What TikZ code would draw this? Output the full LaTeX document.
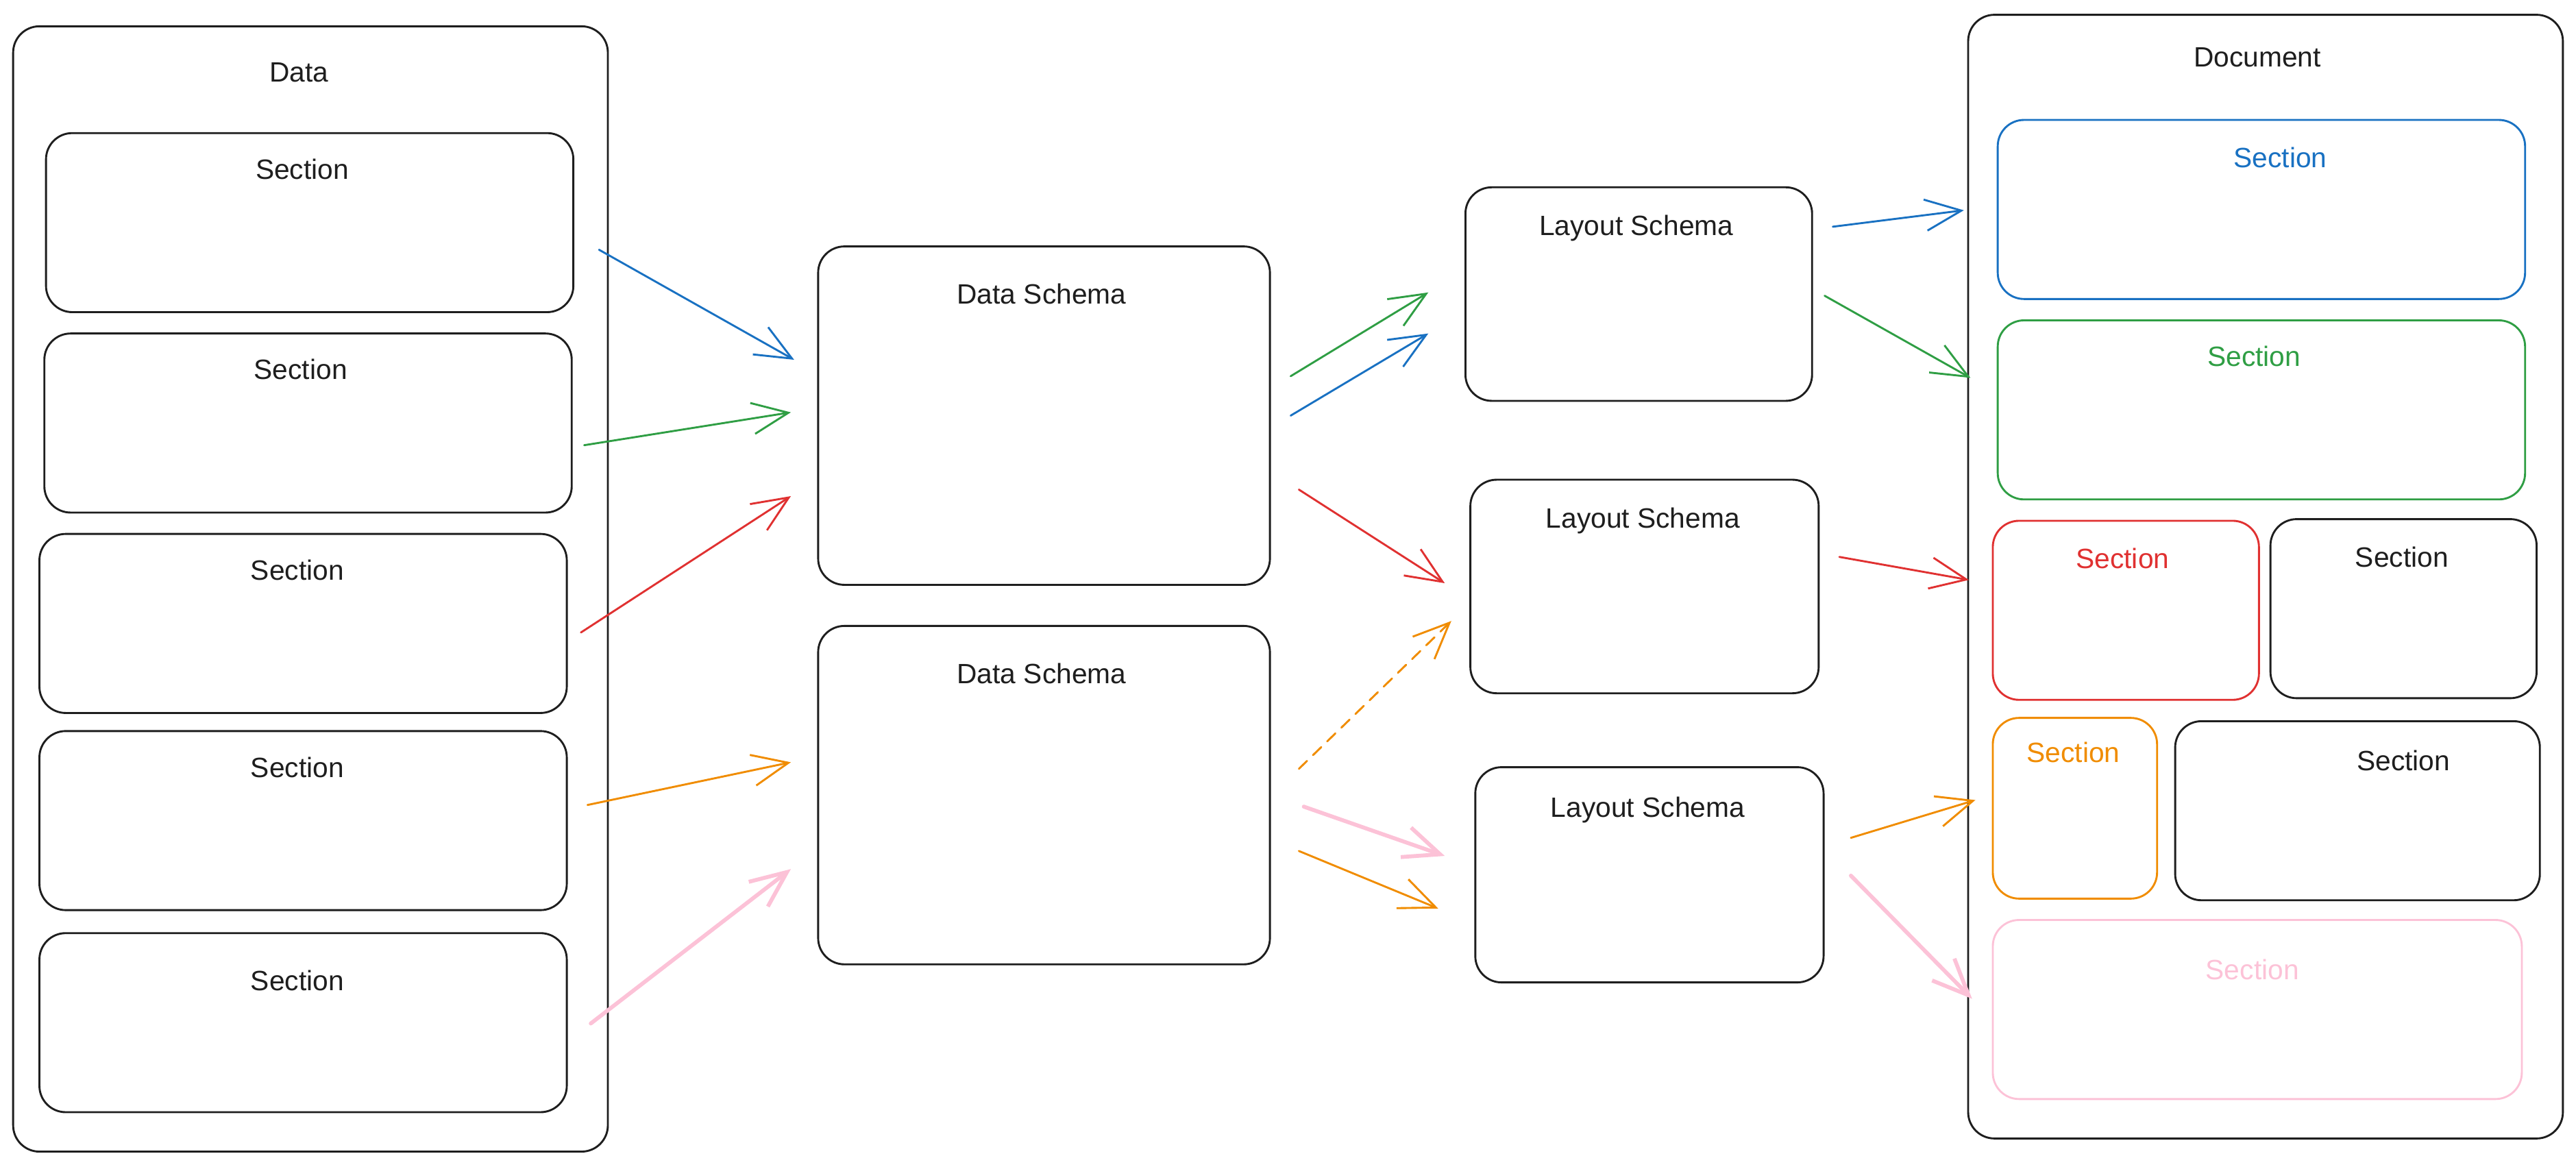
\documentclass[tikz,border=0pt]{standalone}
\usepackage{fontspec}
\setmainfont{Liberation Sans}
\usepackage{tikz}
\usetikzlibrary{arrows.meta}
\definecolor{ink}{HTML}{1E1E1E}
\definecolor{cblue}{HTML}{1971C2}
\definecolor{cgreen}{HTML}{2F9E44}
\definecolor{cred}{HTML}{E03131}
\definecolor{corange}{HTML}{F08C00}
\definecolor{cpink}{HTML}{FCC2D7}
\tikzset{
  box/.style = {draw=#1, rounded corners=16pt, line width=1.2pt, inner sep=0pt},% frame
  box/.default = ink,
  ttl/.style = {text=#1, font=\fontsize{17}{20}\selectfont, inner sep=0pt},% title
  ttl/.default = ink,
  flow/.style = {->, draw=#1, line width=1.2pt, line cap=round, line join=round},
  flow/.default = ink,
  fat/.style = {flow=cpink, line width=2.4pt},
}

\begin{document}
\begin{tikzpicture}[x=1pt,y=-1pt,>={Straight Barb[length=22pt,width=19pt]}]
  \useasboundingbox (0,0) rectangle (1568,710);

  %   data column
  \node[box, minimum width=362, minimum height=685] (data) at (189,358.5) {};
  \node[ttl] (tdata) at (182,44) {Data};
  \node[box, minimum width=321, minimum height=109] (s1) at (188.5,135.5) {};
  \node[box, minimum width=321, minimum height=109] (s2) at (187.5,257.5) {};
  \node[box, minimum width=321, minimum height=109] (s3) at (184.5,379.5) {};
  \node[box, minimum width=321, minimum height=109] (s4) at (184.5,499.5) {};
  \node[box, minimum width=321, minimum height=109] (s5) at (184.5,622.5) {};
  \foreach \n/\x/\y in {1/184/103, 2/183/225, 3/181/347, 4/181/467, 5/181/597}
  \node[ttl] (ts\n) at (\x,\y) {Section};

  %   schemas
  \node[box, minimum width=275, minimum height=206] (ds1) at (635.5,253) {};
  \node[box, minimum width=275, minimum height=206] (ds2) at (635.5,484) {};
  \node[ttl] (tds1) at (634,179) {Data Schema};
  \node[ttl] (tds2) at (634,410) {Data Schema};

  \node[box, minimum width=211, minimum height=130] (ls1) at (997.5,179) {};
  \node[box, minimum width=212, minimum height=130] (ls2) at (1001,357) {};
  \node[box, minimum width=212, minimum height=131] (ls3) at (1004,532.5) {};
  \node[ttl] (tls1) at (996,139) {Layout Schema};
  \node[ttl] (tls2) at (1000,317) {Layout Schema};
  \node[ttl] (tls3) at (1003,493) {Layout Schema};

  %   document column
  \node[box, minimum width=362, minimum height=684] (doc) at (1379,351) {};
  \node[ttl] (tdoc) at (1374,35) {Document};
  \node[box=cblue, minimum width=321, minimum height=109] (d1) at (1376.5,127.5) {};
  \node[box=cgreen, minimum width=321, minimum height=109] (d2) at (1376.5,249.5) {};
  \node[box=cred, minimum width=162, minimum height=109] (d3) at (1294,371.5) {};
  \node[box, minimum width=162, minimum height=109] (d4) at (1463,370.5) {};
  \node[box=corange, minimum width=100, minimum height=110] (d5) at (1263,492) {};
  \node[box, minimum width=222, minimum height=109] (d6) at (1435,493.5) {};
  \node[box=cpink, minimum width=322, minimum height=109] (d7) at (1374,614.5) {};
  \node[ttl=cblue] (td1) at (1388,96) {Section};
  \node[ttl=cgreen] (td2) at (1372,217) {Section};
  \node[ttl=cred] (td3) at (1292,340) {Section};
  \node[ttl] (td4) at (1462,339) {Section};
  \node[ttl=corange] (td5) at (1262,458) {Section};
  \node[ttl] (td6) at (1463,463) {Section};
  \node[ttl=cpink] (td7) at (1371,590) {Section};

  %   data -> data schema
  \draw[flow=cblue] ([shift={(15,16.5)}]s1.east) -- ([shift={(-14,-34)}]ds1.west);
  \draw[flow=cgreen] ([shift={(7,13.5)}]s2.east) -- ([shift={(-16,-2)}]ds1.west);
  \draw[flow=cred] ([shift={(8,5.5)}]s3.east) -- ([shift={(-16,49)}]ds1.west);
  \draw[flow=corange] ([shift={(12,-9.5)}]s4.east) -- ([shift={(-16,-20)}]ds2.west);
  \draw[fat] ([shift={(14,0.5)}]s5.east) -- ([shift={(-16,45)}]ds2.west);
  %   data schema -> layout schema
  \draw[flow=cgreen] ([shift={(12,-24)}]ds1.east) -- ([shift={(-22,-1)}]ls1.west);
  \draw[flow=cblue] ([shift={(12,0)}]ds1.east) -- ([shift={(-22,24)}]ls1.west);
  \draw[flow=cred] ([shift={(17,45)}]ds1.east) -- ([shift={(-15,-2)}]ls2.west);
  \draw[flow=corange, dash pattern=on 7pt off 5pt] ([shift={(17,-16)}]ds2.east) -- ([shift={(-11,21)}]ls2.west);
  \draw[fat] ([shift={(20,7)}]ds2.east) -- ([shift={(-18,-11.5)}]ls3.west);
  \draw[flow=corange] ([shift={(17,34)}]ds2.east) -- ([shift={(-22,20.5)}]ls3.west);
  %   layout schema -> document
  \draw[flow=cblue] ([shift={(12,-41)}]ls1.east) -- ([shift={(-20,0.5)}]d1.west);
  \draw[flow=cgreen] ([shift={(7,1)}]ls1.east) -- ([shift={(-16,-19.5)}]d2.west);
  \draw[flow=cred] ([shift={(12,-18)}]ls2.east) -- ([shift={(-14,-18.5)}]d3.west);
  \draw[flow=corange] ([shift={(16,-22.5)}]ls3.east) -- ([shift={(-10,-5)}]d5.west);
  \draw[fat] ([shift={(16,0.5)}]ls3.east) -- ([shift={(-12,-6.5)}]d7.west);
\end{tikzpicture}
\end{document}
